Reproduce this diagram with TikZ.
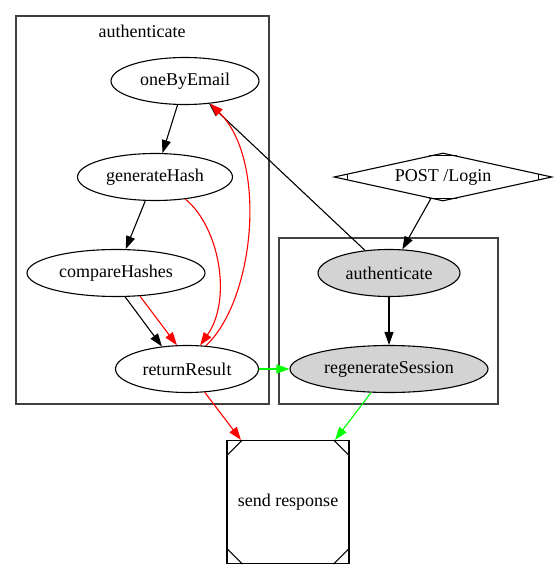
\documentclass[tikz,border=0pt]{standalone}
\usepackage{fontspec}
\setmainfont{Liberation Serif}
\usetikzlibrary{shapes.geometric,arrows.meta,calc}

\definecolor{nodegray}{HTML}{D3D3D3}

\begin{document}
\begin{tikzpicture}[x=1pt,y=-1pt,
    font=\fontsize{18}{21}\selectfont,
    every node/.style={inner sep=0pt},
    proc/.style={draw,ellipse,line width=1.1pt,minimum height=47pt},
    arr/.style={-{Triangle[length=13pt,width=9pt]},line width=1.1pt},
    cluster/.style={draw=black!75,line width=1.3pt}]

    \useasboundingbox (0,0) rectangle (556,569);

    % clusters
    \draw[cluster] (16,16) rectangle (269,404);
    \node (authLabel) at (142,31) {authenticate};
    \draw[cluster] (279,238) rectangle (498,404);

    \node[proc,minimum width=148pt] (oneByEmail) at (185,81) {oneByEmail};
    \node[proc,minimum width=155pt] (generateHash) at (155,177) {generateHash};
    \node[proc,minimum width=178pt] (compareHashes) at (116,273) {compareHashes};
    \node[proc,minimum width=143pt] (returnResult) at (187,369) {returnResult};
    \node[proc,fill=nodegray,minimum width=142pt] (authenticate) at (389,273) {authenticate};
    \node[proc,fill=nodegray,minimum width=198pt] (regenerateSession) at (389,369) {regenerateSession};

    \node[draw,diamond,aspect=4.5,minimum width=218pt,minimum height=48pt,line width=1.1pt] (postLogin) at (443,177) {POST /Login};
    \node[draw,rectangle,minimum width=122pt,minimum height=123pt,line width=1.1pt] (sendResponse) at (288,502) {send response};

    % corner marks
    \foreach \v/\p/\q in {west/north/south,east/north/south,north/west/east,south/west/east}
        \draw[line width=1.1pt] ($(postLogin.\v)!.125!(postLogin.\p)$) -- ($(postLogin.\v)!.125!(postLogin.\q)$);
    \foreach \c/\dx/\dy in {north west/1/-1,north east/-1/-1,south west/1/1,south east/-1/1}
        \draw[line width=1.1pt] ([xshift=\dx*16pt]sendResponse.\c) -- ([yshift=\dy*16pt]sendResponse.\c);

    \path[arr]
        (oneByEmail) edge (generateHash)
        (generateHash) edge (compareHashes)
        (compareHashes.-69) edge (returnResult.138)
        (postLogin) edge (authenticate)
        (authenticate) edge (regenerateSession)
        (authenticate) edge (oneByEmail);

    \path[arr,red]
        (compareHashes.-44) edge (returnResult.113)
        (returnResult) edge (sendResponse);
    \draw[arr,red] (generateHash.-36) .. controls (220,228) and (232,300) .. (returnResult.61);
    \draw[arr,red] (returnResult.51) .. controls (255,300) and (268,160) .. (oneByEmail.-42);

    \path[arr,green]
        (returnResult) edge (regenerateSession)
        (regenerateSession) edge (sendResponse);
\end{tikzpicture}
\end{document}
